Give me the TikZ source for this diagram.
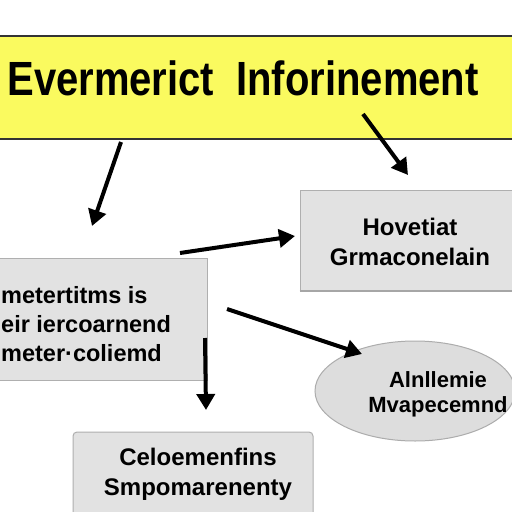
\documentclass[tikz,border=0pt]{standalone}
\usepackage{fontspec}
\setmainfont{Liberation Sans}
\usetikzlibrary{arrows.meta,shapes.geometric}

\definecolor{banner}{RGB}{250,250,95}
\definecolor{boxfill}{RGB}{226,226,226}
\definecolor{boxline}{RGB}{175,175,175}

\tikzset{
  flow/.style={line width=4pt,-{Triangle[length=16pt,width=18pt]}},
  graybox/.style={fill=boxfill,draw=boxline,line width=1pt,align=center},
  label/.style={font=\bfseries\fontsize{24}{30}\selectfont,align=center,inner sep=0pt},
}

\begin{document}
\begin{tikzpicture}[x=1pt,y=-1pt]
	\useasboundingbox (0,0) rectangle (512,512);
	\fill[white] (0,0) rectangle (512,512);
	% banner
	\node[fill=banner,draw=black!80,line width=2pt,minimum width=530pt,minimum height=103pt,inner sep=0pt] (top) at (256,87) {};
	\node[font=\bfseries\fontsize{40}{50}\selectfont,yscale=1.2,inner sep=0pt] (title) at (243,78) {Evermerict\ \ Inforinement};
	% boxes
	\node[graybox,minimum width=220pt,minimum height=100pt] (hov) at (410,240) {};
	\draw[gray!70,line width=2pt] (hov.south west) -- (hov.south east);
	\node[label] (hovtext) at (410,242) {Hovetiat\\Grmaconelain};
	\node[graybox,minimum width=216pt,minimum height=122pt] (left) at (99,319) {};
	\node[label,align=left,anchor=west,font=\bfseries\fontsize{23.5}{29}\selectfont] (lefttext) at (1,324) {metertitms is\\eir iercoarnend\\meter·coliemd};
	\node[graybox,ellipse,minimum width=200pt,minimum height=100pt,fill=gray!27,draw=gray!65] (ell) at (415,391) {};
	\node[label,font=\bfseries\fontsize{22}{25}\selectfont] (elltext) at (438,394) {Alnllemie\\Mvapecemnd};
	\node[graybox,rounded corners=4pt,minimum width=240pt,minimum height=100pt] (bot) at (193,482) {};
	\node[label] (bottext) at (198,474) {Celoemenfins\\Smpomarenenty};
	% arrow ends
	\coordinate (a1) at (121,142);
	\coordinate (b1) at (92,226);
	\coordinate (a2) at (363,114);
	\coordinate (b2) at (408,175);
	\coordinate (a3) at (180,253);
	\coordinate (b3) at (295,236);
	\coordinate (a4) at (227,309);
	\coordinate (b4) at (362,354);
	\coordinate (a5) at (205,338);
	\coordinate (b5) at (206,410);
	\draw[flow] (a1) -- (b1);
	\draw[flow] (a2) -- (b2);
	\draw[flow] (a3) -- (b3);
	\draw[flow] (a4) -- (b4);
	\draw[flow] (a5) -- (b5);
\end{tikzpicture}
\end{document}
